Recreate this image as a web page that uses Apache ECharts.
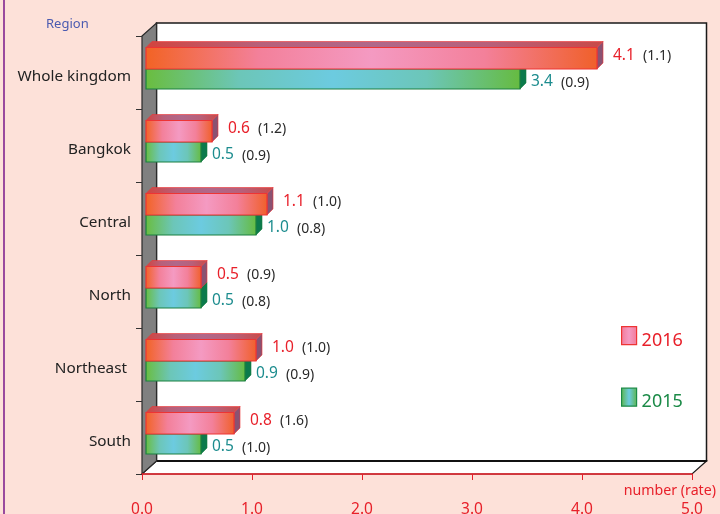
<!DOCTYPE html>
<html>
<head>
<meta charset="utf-8">
<script src="https://cdn.jsdelivr.net/npm/echarts@6/dist/echarts.min.js"></script>
<style>
  html, body { margin: 0; padding: 0; background: #fde1d9; }
  #chart { width: 720px; height: 514px; }
</style>
</head>
<body>
<div id="chart"></div>
<script>
// data
const regions = ['Whole kingdom', 'Bangkok', 'Central', 'North', 'Northeast ', 'South']
const cases2016 = [4.1, 0.6, 1.1, 0.5, 1.0, 0.8]
const rates2016 = ['1.1', '1.2', '1.0', '0.9', '1.0', '1.6']
const cases2015 = [3.4, 0.5, 1.0, 0.5, 0.9, 0.5]
const rates2015 = ['0.9', '0.9', '0.8', '0.8', '0.9', '1.0']

const FONT = 'Noto Sans'
const RED = '#e8202a'
const TEAL = '#1c8c8e'
const GREEN = '#1b8a47'

// plot box + fake 3D depth
const G = { left: 142, top: 36, width: 550, height: 438 }
const DX = 14.5
const DY = -13
const EXT = 6 // bar extrusion

function hGrad(stops) {
  return new echarts.graphic.LinearGradient(0, 0, 1, 0,
    stops.map((c, i) => ({ offset: i / (stops.length - 1), color: c })))
}

const style2016 = {
  front: () => hGrad(['#f26324', '#f3809a', '#f49ac2', '#f3809a', '#f0602a']),
  top: () => hGrad(['#d2443e', '#b8607a', '#b0688a', '#b8607a', '#c84a48']),
  side: '#8a5272',
  border: '#ee3434',
  labelColor: RED,
}
const style2015 = {
  front: () => hGrad(['#6abd3e', '#6cc6b8', '#6ccbe0', '#6cc6b8', '#66bb40']),
  top: () => hGrad(['#3e9a3a', '#3aa0a0']),
  side: '#0c7a4c',
  border: '#1a8040',
  labelColor: TEAL,
}

function barSeries(name, values, rates, upper, st, z) {
  return {
    type: 'custom',
    name: name,
    z: z,
    itemStyle: { color: upper ? '#f490b6' : '#6cc6c0' },
    data: values.map((v, i) => [v, i, rates[i]]),
    encode: { x: 0, y: 1 },
    renderItem: function (params, api) {
      const v = api.value(0)
      const idx = api.value(1)
      const p0 = api.coord([0, idx])
      const p1 = api.coord([v, idx])
      const c = p0[1]
      const x0 = p0[0] + 4
      const x1 = p1[0] + 4
      const top = upper ? c - 25 : c - 3.5
      const h = upper ? 21.5 : 20
      const labelX = x1 + EXT + (upper ? 10 : 5)
      const labelY = upper ? c - 17 : c + 9.5
      const rate = rates[params.dataIndex]
      return {
        type: 'group',
        children: [
          {
            type: 'polygon',
            shape: { points: [[x0, top], [x1, top], [x1 + EXT, top - EXT], [x0 + EXT, top - EXT]] },
            style: { fill: st.top(), stroke: st.border, lineWidth: 0.6 },
          },
          {
            type: 'polygon',
            shape: { points: [[x1, top], [x1 + EXT, top - EXT], [x1 + EXT, top + h - EXT], [x1, top + h]] },
            style: { fill: st.side, stroke: st.border, lineWidth: 0.6 },
          },
          {
            type: 'rect',
            shape: { x: x0, y: top, width: x1 - x0, height: h },
            style: { fill: st.front(), stroke: st.border, lineWidth: 1.2 },
          },
          {
            type: 'text',
            x: labelX,
            y: labelY,
            style: {
              text: v.toFixed(1), fill: st.labelColor, font: '15.5px "' + FONT + '"',
              textVerticalAlign: 'middle',
            },
          },
          {
            type: 'text',
            x: labelX + 30,
            y: labelY + 1,
            style: {
              text: '(' + rate + ')', fill: '#2a2a2a', font: '14px "' + FONT + '"',
              textVerticalAlign: 'middle',
            },
          },
        ],
      }
    },
  }
}

const L = G.left, T = G.top, R = G.left + G.width, B = G.top + G.height

const chart = echarts.init(document.getElementById('chart'))
chart.setOption({
  backgroundColor: '#fde1d9',
  animation: false,
  textStyle: { fontFamily: FONT },
  title: [
    {
      text: 'Region', left: 41, top: 13,
      textStyle: { color: '#4a5ab0', fontSize: 13, fontWeight: 'normal', fontFamily: FONT },
    },
    {
      text: 'number (rate)', right: -1, top: 479,
      textStyle: { color: RED, fontSize: 14.2, fontWeight: 'normal', fontFamily: FONT },
    },
  ],
  legend: {
    orient: 'vertical',
    left: 621,
    top: 326,
    padding: 0,
    itemWidth: 15,
    itemHeight: 18,
    itemGap: 38,
    icon: 'rect',
    formatter: (name) => '{a|' + name + '}',
    textStyle: {
      fontSize: 18, fontFamily: FONT,
      rich: { a: { fontSize: 18, fontFamily: FONT, padding: [10, 0, 0, 0] } },
    },
    data: [
      {
        name: '2016',
        itemStyle: { color: hGrad(['#f27a98', '#f59ac2', '#f27a98']), borderColor: '#ee3434', borderWidth: 1.2 },
        textStyle: { color: RED },
      },
      {
        name: '2015',
        itemStyle: { color: hGrad(['#5cb54a', '#6ccbe0', '#5cb54a']), borderColor: GREEN, borderWidth: 1.2 },
        textStyle: { color: GREEN },
      },
    ],
  },
  grid: { left: L, top: T, width: G.width, height: G.height, outerBoundsMode: 'none' },
  graphic: [
    { type: 'line', z: -5, shape: { x1: 4, y1: 0, x2: 4, y2: 514 }, style: { stroke: '#9a4a9e', lineWidth: 2 } },
    {
      type: 'rect', z: -5,
      shape: { x: L + DX, y: T + DY, width: G.width, height: G.height },
      style: { fill: '#ffffff', stroke: '#1a1a1a', lineWidth: 1.5 },
    },
    {
      type: 'polygon', z: -4,
      shape: { points: [[L, B], [R, B], [R + DX, B + DY], [L + DX, B + DY]] },
      style: { fill: '#ffffff', stroke: '#1a1a1a', lineWidth: 1.2 },
    },
    {
      type: 'line', z: -3,
      shape: { x1: L + DX, y1: B + DY, x2: R + DX, y2: B + DY },
      style: { stroke: '#111', lineWidth: 2 },
    },
    {
      type: 'polygon', z: -3,
      shape: { points: [[L, T], [L + DX, T + DY], [L + DX, B + DY], [L, B]] },
      style: { fill: '#808080', stroke: '#2a2a2a', lineWidth: 1.2 },
    },
  ],
  xAxis: {
    type: 'value',
    min: 0,
    max: 5,
    interval: 1,
    splitLine: { show: false },
    axisLine: { show: true, lineStyle: { color: RED, width: 1.5 } },
    axisTick: { show: true, length: 6, lineStyle: { color: RED } },
    axisLabel: {
      color: RED, fontSize: 15.5, margin: 28, fontFamily: FONT,
      formatter: (v) => v.toFixed(1),
    },
  },
  yAxis: {
    type: 'category',
    data: regions,
    inverse: true,
    axisLine: { show: false },
    axisTick: { show: true, length: 6, lineStyle: { color: '#333' } },
    axisLabel: {
      color: '#222', fontSize: 15.3, margin: 11, fontFamily: FONT,
      formatter: (v) => '{a|' + v + '}',
      rich: { a: { color: '#222', fontSize: 15.3, fontFamily: FONT, padding: [8, 0, 0, 0] } },
    },
  },
  series: [
    barSeries('2015', cases2015, rates2015, false, style2015, 2),
    barSeries('2016', cases2016, rates2016, true, style2016, 3),
  ],
})
</script>
</body>
</html>
